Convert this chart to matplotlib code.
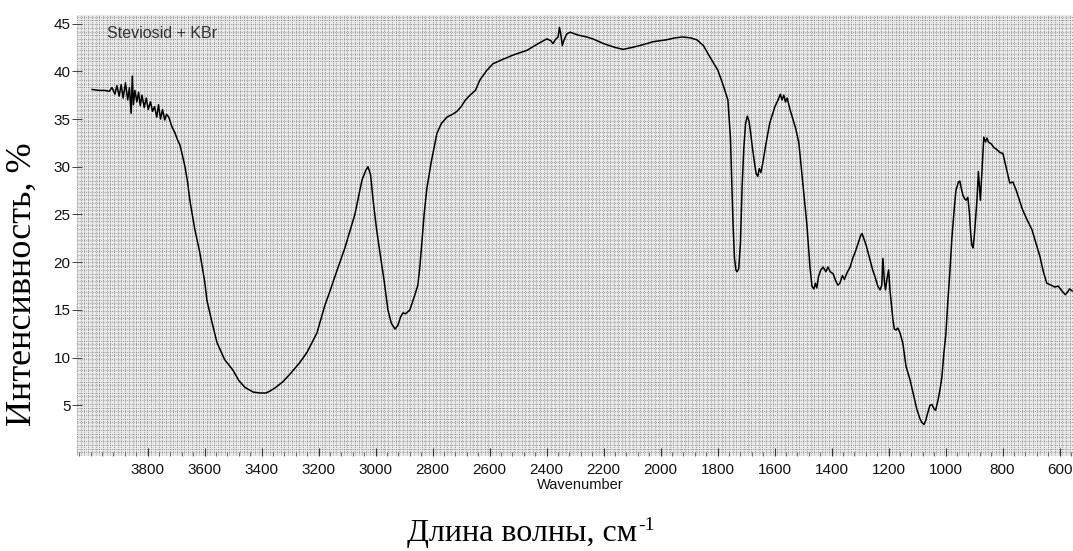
import numpy as np
import matplotlib
matplotlib.use("Agg")
import matplotlib.pyplot as plt
from matplotlib.ticker import MultipleLocator

# IR spectrum (wavenumber cm-1, intensity %)
wavenumber = [
    3995, 3970, 3950, 3935, 3925, 3915, 3908, 3900, 3893, 3886, 3878, 3870,
    3864, 3858, 3854, 3850, 3845, 3838, 3832, 3826, 3820, 3812, 3805, 3798,
    3790, 3783, 3776, 3768, 3762, 3755, 3748, 3740, 3734, 3726, 3715, 3705,
    3695, 3687, 3678, 3669, 3660, 3652, 3635, 3617, 3600, 3592, 3575, 3557,
    3530, 3501, 3480, 3459, 3430, 3406, 3385, 3371, 3350, 3325, 3300, 3266,
    3240, 3206, 3178, 3160, 3143, 3108, 3073, 3048, 3035, 3027, 3018, 3009,
    2997, 2985, 2970, 2957, 2945, 2932, 2922, 2912, 2904, 2895, 2880, 2869,
    2860, 2852, 2845, 2838, 2830, 2820, 2805, 2785, 2770, 2750, 2730, 2715,
    2700, 2685, 2669, 2650, 2634, 2610, 2588, 2550, 2518, 2469, 2430, 2399,
    2385, 2378, 2370, 2360, 2355, 2350, 2345, 2340, 2330, 2318, 2290, 2260,
    2238, 2200, 2160, 2132, 2100, 2060, 2027, 1980, 1950, 1922, 1895, 1873,
    1850, 1827, 1799, 1780, 1764, 1755, 1750, 1746, 1741, 1736, 1732, 1726,
    1720, 1714, 1708, 1702, 1696, 1690, 1684, 1678, 1671, 1665, 1659, 1654,
    1648, 1642, 1631, 1617, 1599, 1588, 1580, 1574, 1568, 1562, 1556, 1546,
    1536, 1526, 1515, 1505, 1495, 1487, 1481, 1476, 1469, 1462, 1457, 1452,
    1446, 1438, 1430, 1420, 1413, 1405, 1395, 1385, 1378, 1371, 1362, 1355,
    1346, 1335, 1325, 1318, 1307, 1298, 1293, 1286, 1279, 1272, 1265, 1256,
    1248, 1238, 1230, 1224, 1220, 1215, 1211, 1206, 1200, 1195, 1190, 1185,
    1180, 1174, 1168, 1160, 1150, 1139, 1132, 1125, 1118, 1111, 1101, 1090,
    1083, 1076, 1070, 1062, 1055, 1048, 1040, 1035, 1027, 1020, 1013, 1006,
    999, 992, 985, 978, 970, 964, 955, 950, 944, 939, 932, 928,
    922, 916, 912, 908, 904, 900, 895, 890, 885, 878, 870, 866,
    860, 855, 850, 840, 830, 820, 810, 799, 788, 775, 764, 753,
    739, 730, 715, 697, 683, 669, 657, 645, 630, 617, 605, 592,
    580, 574, 565, 556,
]
intensity = [
    38.1, 38.0, 38.0, 37.9, 38.3, 37.6, 38.5, 37.4, 38.6, 37.2, 38.8, 37.0,
    38.3, 35.6, 39.5, 36.5, 38.0, 36.8, 37.8, 36.4, 37.5, 36.2, 37.2, 36.0,
    36.8, 35.8, 36.3, 35.2, 36.5, 35.0, 36.0, 34.9, 35.5, 35.2, 34.2, 33.6,
    32.8, 32.3, 31.2, 30.0, 28.4, 26.5, 23.5, 21.0, 18.0, 16.0, 13.8, 11.6,
    9.8, 8.7, 7.6, 6.9, 6.4, 6.3, 6.3, 6.5, 6.9, 7.5, 8.3, 9.5,
    10.6, 12.6, 15.5, 17.0, 18.5, 21.5, 25.0, 28.6, 29.6, 30.0, 29.2, 26.5,
    23.5, 21.0, 18.0, 15.0, 13.6, 13.0, 13.4, 14.3, 14.7, 14.6, 15.0, 16.0,
    16.8, 17.6, 19.5, 22.0, 25.0, 27.8, 30.5, 33.5, 34.5, 35.2, 35.5, 35.8,
    36.3, 37.0, 37.5, 38.0, 39.1, 40.1, 40.8, 41.3, 41.7, 42.2, 42.9, 43.4,
    43.2, 42.9, 43.3, 43.6, 44.6, 43.8, 42.7, 43.2, 43.9, 44.1, 43.8, 43.6,
    43.4, 42.9, 42.5, 42.3, 42.5, 42.8, 43.1, 43.3, 43.5, 43.6, 43.5, 43.3,
    42.7, 41.5, 40.1, 38.5, 37.0, 33.0, 28.0, 24.0, 20.5, 19.2, 19.0, 19.3,
    22.0, 28.0, 32.0, 34.5, 35.3, 34.8, 33.5, 32.0, 30.5, 29.3, 29.0, 29.8,
    29.4, 30.3, 32.3, 34.6, 36.3, 37.0, 37.6, 37.0, 37.5, 36.8, 37.2, 36.0,
    35.0, 34.0, 32.5, 29.5, 26.5, 24.0, 21.5, 19.5, 17.5, 17.2, 17.8, 17.3,
    18.5, 19.2, 19.5, 19.0, 19.5, 19.0, 18.8, 18.0, 17.6, 17.8, 18.6, 18.2,
    18.9, 19.5, 20.5, 21.0, 22.0, 22.8, 23.0, 22.4, 21.8, 21.0, 20.2, 19.2,
    18.5, 17.5, 17.1, 17.6, 20.4, 18.0, 17.1, 18.2, 19.2, 17.0, 15.5, 14.0,
    13.0, 12.9, 13.1, 12.6, 11.5, 9.1, 8.4, 7.7, 6.8, 5.9, 4.6, 3.6,
    3.2, 3.0, 3.4, 4.3, 5.0, 5.1, 4.6, 4.5, 5.5, 6.6, 8.0, 10.5,
    12.5, 16.0, 19.0, 22.5, 25.5, 27.5, 28.4, 28.5, 27.6, 27.0, 26.6, 26.5,
    26.8, 25.0, 23.0, 21.8, 21.5, 22.5, 24.5, 26.5, 29.5, 26.5, 31.0, 33.1,
    32.6, 33.0, 32.6, 32.4, 32.0, 31.8, 31.5, 31.4, 30.0, 28.3, 28.4, 27.6,
    26.3, 25.5, 24.5, 23.4, 22.0, 20.6, 19.0, 17.8, 17.6, 17.4, 17.5, 17.0,
    16.6, 16.8, 17.2, 17.0,
]
xticks = list(range(3800, 599, -200))
yticks = [5, 10, 15, 20, 25, 30, 35, 40, 45]

fig = plt.figure(figsize=(10.73, 5.51), dpi=100)
ax = fig.add_axes([77/1073, 95/551, 996/1073, 441/551])
ax.set_facecolor("#e9e9e9")

x_lo, x_hi = 4048, 553
y_lo, y_hi = -0.3, 45.9

# dotted mesh background like the instrument printout
for gx in np.arange(x_lo, x_hi, -13.0):
    ax.axvline(gx, color="#7f7f7f", lw=0.6, ls=(0, (1, 1.6)), zorder=0)
for gy in np.arange(y_lo, y_hi, 0.39):
    ax.axhline(gy, color="#7f7f7f", lw=0.6, ls=(0, (1, 1.6)), zorder=0)

ax.plot(wavenumber, intensity, color="black", lw=1.1, zorder=3)

ax.set_xlim(x_lo, x_hi)
ax.set_ylim(y_lo, y_hi)
for s in ax.spines.values():
    s.set_visible(False)

ax.set_xticks(xticks)
ax.xaxis.set_minor_locator(MultipleLocator(40))
ax.set_yticks(yticks)
ax.tick_params(axis="x", which="major", direction="in", length=6, width=0.8,
               color="#333333", pad=5, labelsize=11, labelcolor="#111111")
ax.tick_params(axis="x", which="minor", direction="in", length=3, width=0.6,
               color="#555555")
ax.tick_params(axis="y", direction="inout", length=7, width=0.7,
               color="#444444", pad=1, labelsize=11, labelcolor="#111111")
for lab in ax.get_xticklabels() + ax.get_yticklabels():
    lab.set_family("Liberation Sans")

ax.text(0.03, 0.975, "Steviosid + KBr", transform=ax.transAxes,
        fontsize=11.5, family="Liberation Sans", color="#333333", va="top")

fig.text(580/1073, 1 - 485/551, "Wavenumber", ha="center", va="center",
         fontsize=10.5, family="Liberation Sans", color="#111111")
xl = fig.text(522/1073, 1 - 533/551, "Длина волны, см", ha="center",
              va="center", fontsize=23, family="Liberation Serif")
fig.text(0, 0, "-1", fontsize=14, family="Liberation Serif",
         ha="left", va="bottom",
         transform=matplotlib.transforms.offset_copy(
             xl.get_transform(), fig=fig, x=0, y=0))
# place the superscript just after the label end
fig.canvas.draw()
bb = xl.get_window_extent()
sup = fig.texts[-1]
sup.set_transform(matplotlib.transforms.IdentityTransform())
sup.set_position((bb.x1 + 1, bb.y1 - 16))

fig.text(22/1073, 1 - 284/551, "Интенсивность, %", ha="center", va="center",
         rotation=90, fontsize=26, family="Liberation Serif")

fig.savefig("out.png", dpi=100)
